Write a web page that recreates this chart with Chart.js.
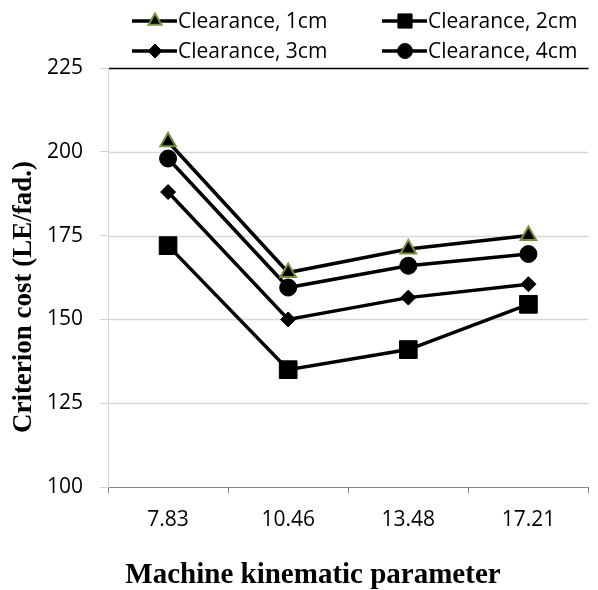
<!DOCTYPE html>
<html lang="en">
<head>
    <meta charset="UTF-8">
    <title>Criterion cost vs machine kinematic parameter</title>
    <script src="https://cdn.jsdelivr.net/npm/chart.js@4.4.0/dist/chart.umd.min.js"></script>
    <style>
        html, body { margin: 0; padding: 0; background: #fff; overflow: hidden; }
        #wrap { width: 598px; height: 590px; overflow: hidden; }
    </style>
</head>
<body>
    <div id="wrap">
        <canvas id="costChart" width="602" height="590"></canvas>
    </div>

    <script>
        // chart data
        var categories = ['7.83', '10.46', '13.48', '17.21'];
        var seriesNames = ['Clearance, 1cm', 'Clearance, 2cm', 'Clearance, 3cm', 'Clearance, 4cm'];
        var clearance1 = [203, 164, 171, 175];
        var clearance2 = [172, 135, 141, 154.5];
        var clearance3 = [188, 150, 156.5, 160.5];
        var clearance4 = [198, 159.5, 166, 169.5];
        var yTicks = [100, 125, 150, 175, 200, 225];
        var xTitle = 'Machine kinematic parameter';
        var yTitle = 'Criterion cost (LE/fad.)';

        var tickFont = { family: "'Open Sans'", size: 21 };

        function makeSet(label, values, style, radius, pointBorder) {
            return {
                label: label,
                data: values,
                borderColor: '#000',
                borderWidth: 3.5,
                backgroundColor: '#000',
                pointStyle: style,
                pointRadius: radius,
                pointHoverRadius: radius,
                pointBackgroundColor: '#000',
                pointBorderColor: pointBorder || '#000',
                pointBorderWidth: pointBorder ? 2 : 1,
                tension: 0,
                fill: false
            };
        }

        // horizontal grid (light grey) and the black line at the top value
        var gridLines = {
            id: 'gridLines',
            beforeDatasetsDraw: function (chart) {
                var ctx = chart.ctx;
                var area = chart.chartArea;
                var yScale = chart.scales.y;
                ctx.save();
                yTicks.forEach(function (v, i) {
                    if (i === 0) return;
                    var y = Math.round(yScale.getPixelForValue(v)) + 0.5;
                    var top = i === yTicks.length - 1;
                    ctx.strokeStyle = top ? '#000' : '#d6d6d6';
                    ctx.lineWidth = 1.5;
                    ctx.beginPath();
                    ctx.moveTo(area.left + 1, y);
                    ctx.lineTo(area.right, y);
                    ctx.stroke();
                });
                ctx.restore();
            }
        };

        // legend + axis titles drawn at fixed spots like the original
        var textPlugin = {
            id: 'textPlugin',
            afterDraw: function (chart) {
                var ctx = chart.ctx;
                var spots = [
                    { x: 132, y: 21 }, { x: 382, y: 21 },
                    { x: 132, y: 51 }, { x: 382, y: 51 }
                ];
                var legendRadius = [7.5, 10, 7, 7.5];
                chart.data.datasets.forEach(function (ds, i) {
                    var s = spots[i];
                    ctx.save();
                    ctx.strokeStyle = '#000';
                    ctx.lineWidth = 3.5;
                    ctx.beginPath();
                    ctx.moveTo(s.x, s.y);
                    ctx.lineTo(s.x + 45, s.y);
                    ctx.stroke();
                    ctx.fillStyle = ds.pointBackgroundColor;
                    ctx.strokeStyle = ds.pointBorderColor;
                    ctx.lineWidth = ds.pointBorderWidth;
                    Chart.helpers.drawPoint(ctx, {
                        pointStyle: ds.pointStyle,
                        radius: legendRadius[i],
                        borderWidth: ds.pointBorderWidth,
                        rotation: 0
                    }, s.x + 23, s.y);
                    ctx.fillStyle = '#000';
                    ctx.font = "21px 'Open Sans'";
                    ctx.textAlign = 'left';
                    ctx.textBaseline = 'middle';
                    ctx.fillText(ds.label, s.x + 46, s.y + 1);
                    ctx.restore();
                });

                ctx.save();
                ctx.fillStyle = '#000';
                ctx.font = "bold 29px 'Liberation Serif'";
                ctx.textAlign = 'center';
                ctx.textBaseline = 'alphabetic';
                ctx.fillText(xTitle, 313, 583);
                ctx.translate(31, 297);
                ctx.rotate(-Math.PI / 2);
                ctx.font = "bold 27px 'Liberation Serif'";
                ctx.fillText(yTitle, 0, 0);
                ctx.restore();
            }
        };

        var ctx = document.getElementById('costChart').getContext('2d');
        var costChart = new Chart(ctx, {
            type: 'line',
            data: {
                labels: categories,
                datasets: [
                    makeSet(seriesNames[0], clearance1, 'triangle', 9, '#77933c'),
                    makeSet(seriesNames[1], clearance2, 'rect', 12.5),
                    makeSet(seriesNames[2], clearance3, 'rectRot', 7.5),
                    makeSet(seriesNames[3], clearance4, 'circle', 8.5)
                ]
            },
            options: {
                responsive: false,
                animation: false,
                devicePixelRatio: 1,
                layout: { padding: { top: 68, right: 1, left: 0, bottom: 0 } },
                plugins: {
                    legend: { display: false },
                    title: { display: false },
                    tooltip: { enabled: false }
                },
                scales: {
                    x: {
                        type: 'category',
                        offset: true,
                        afterFit: function (scale) { scale.height = 103; },
                        grid: {
                            offset: true,
                            drawOnChartArea: false,
                            drawTicks: true,
                            tickLength: 6,
                            color: '#868686'
                        },
                        border: { color: '#868686', width: 1 },
                        ticks: { font: tickFont, color: '#000', padding: 14, maxRotation: 0 }
                    },
                    y: {
                        min: yTicks[0],
                        max: yTicks[yTicks.length - 1],
                        afterFit: function (scale) { scale.width = 108; },
                        afterBuildTicks: function (scale) {
                            scale.ticks = yTicks.map(function (v) { return { value: v }; });
                        },
                        grid: {
                            drawOnChartArea: false,
                            tickColor: '#d4d4d4',
                            tickLength: 8
                        },
                        border: { color: '#d4d4d4', width: 1 },
                        ticks: { font: tickFont, color: '#000', padding: 17 }
                    }
                }
            },
            plugins: [gridLines, textPlugin]
        });
    </script>
</body>
</html>
